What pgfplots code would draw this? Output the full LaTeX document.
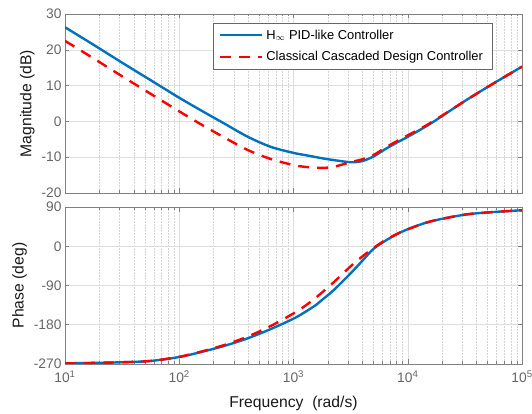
\documentclass[border=0pt]{standalone}
\usepackage{pgfplots}
\pgfplotsset{compat=1.18}
\usepackage{pgfplotstable}
\usepackage{fontspec}
\setmainfont{Liberation Sans}
\definecolor{mblue}{RGB}{0,114,189}
\definecolor{tickgray}{RGB}{102,102,102}
\definecolor{axgray}{RGB}{128,128,128}
\definecolor{gridgray}{RGB}{222,222,222}
\definecolor{minorgray}{RGB}{212,212,212}

\pgfplotsset{legend image code/.code={\draw[#1] (0pt,0pt) -- (42pt,0pt);}}

\pgfplotstableread{
f mb mr pb pr
10 26.3 22.5 -268.5 -268.5
17.78 21.4 17.6 -267.5 -267.5
31.62 16.4 12.6 -266 -266
56.23 11.5 7.7 -263 -263
100 6.6 2.8 -254 -253.5
158.5 2.9 -1.0 -242 -241
251.2 -0.7 -4.6 -228 -226
398.1 -4.3 -8.0 -211 -207
631.0 -7.1 -10.5 -190 -183
1000 -8.8 -12.2 -166 -154
1259 -9.4 -12.7 -151 -137
1585 -10.0 -12.95 -134 -117
1778 -10.3 -13.0 -123 -106
2239 -10.8 -12.7 -101 -83
3162 -11.4 -11.4 -62 -46
3981 -11.1 -10.6 -34 -24
5012 -9.8 -9.4 -6 -4
6310 -7.8 -7.4 12 13.5
7943 -6.0 -5.6 27 27.5
10000 -4.3 -3.9 39 39
15849 -0.6 -0.4 57 57
31623 5.7 5.7 72.5 72.5
56234 10.6 10.6 78.5 78.5
100000 15.3 15.3 82.5 82.5
}\bodedata

\begin{document}
\begin{tikzpicture}
\useasboundingbox (0pt,0pt) rectangle (532pt,414pt);
\begin{axis}[at={(65pt,221pt)}, anchor=south west, scale only axis, width=457pt, height=179pt,
  xmode=log, xmin=10, xmax=100000,
  axis line style={draw=axgray, line width=0.6pt},
  tick style={draw=axgray, line width=0.5pt},
  major tick length=4.5pt, minor tick length=2.5pt,
  tick align=inside,
  xmajorgrids, xminorgrids, ymajorgrids,
  major grid style={draw=gridgray, line width=0.5pt},
  minor grid style={draw=minorgray, line width=0.4pt, dash pattern=on 1.5pt off 1.5pt},
  ticklabel style={font=\fontsize{13.8}{16}\selectfont, text=tickgray},
  /pgf/number format/assume math mode=true,
  label style={font=\fontsize{15.7}{18}\selectfont, text=black!90},
  xtick={10,100,1000,10000,100000},
  minor xtick={20,30,40,50,60,70,80,90,200,300,400,500,600,700,800,900,2000,3000,4000,5000,6000,7000,8000,9000,20000,30000,40000,50000,60000,70000,80000,90000},
  ymin=-20, ymax=30, ytick={-20,-10,0,10,20,30},
  xticklabels={},
  ylabel={Magnitude (dB)},
  legend cell align=left,
  legend style={at={(0.3232,0.9497)}, anchor=north west, draw=black!60, line width=0.6pt,
    font=\fontsize{12.9}{15}\selectfont, inner xsep=6pt, inner ysep=3.5pt, row sep=5pt,
    nodes={inner xsep=3pt, inner ysep=3pt}},
]
\addplot[mblue, line width=2.4pt, smooth] table[x=f,y=mb]{\bodedata};
\addplot[red, line width=2.4pt, dash pattern=on 11pt off 8pt, smooth] table[x=f,y=mr]{\bodedata};
\legend{H$_{\infty}$ PID-like Controller, Classical Cascaded Design Controller}
\end{axis}
\begin{axis}[at={(65pt,50pt)}, anchor=south west, scale only axis, width=457pt, height=157pt,
  xmode=log, xmin=10, xmax=100000,
  axis line style={draw=axgray, line width=0.6pt},
  tick style={draw=axgray, line width=0.5pt},
  major tick length=4.5pt, minor tick length=2.5pt,
  tick align=inside,
  xmajorgrids, xminorgrids, ymajorgrids,
  major grid style={draw=gridgray, line width=0.5pt},
  minor grid style={draw=minorgray, line width=0.4pt, dash pattern=on 1.5pt off 1.5pt},
  ticklabel style={font=\fontsize{13.8}{16}\selectfont, text=tickgray},
  /pgf/number format/assume math mode=true,
  label style={font=\fontsize{15.7}{18}\selectfont, text=black!90},
  xtick={10,100,1000,10000,100000},
  minor xtick={20,30,40,50,60,70,80,90,200,300,400,500,600,700,800,900,2000,3000,4000,5000,6000,7000,8000,9000,20000,30000,40000,50000,60000,70000,80000,90000},
  ymin=-270, ymax=90, ytick={-270,-180,-90,0,90},
  xticklabels={10\textsuperscript{1},10\textsuperscript{2},10\textsuperscript{3},10\textsuperscript{4},10\textsuperscript{5}},
  xticklabel style={yshift=-3pt},
  ylabel={Phase (deg)},
  xlabel={Frequency\ \ (rad/s)},
  xlabel style={yshift=-7pt},
]
\addplot[mblue, line width=2.4pt, smooth] table[x=f,y=pb]{\bodedata};
\addplot[red, line width=2.4pt, dash pattern=on 11pt off 8pt, smooth] table[x=f,y=pr]{\bodedata};
\end{axis}
\end{tikzpicture}
\end{document}
